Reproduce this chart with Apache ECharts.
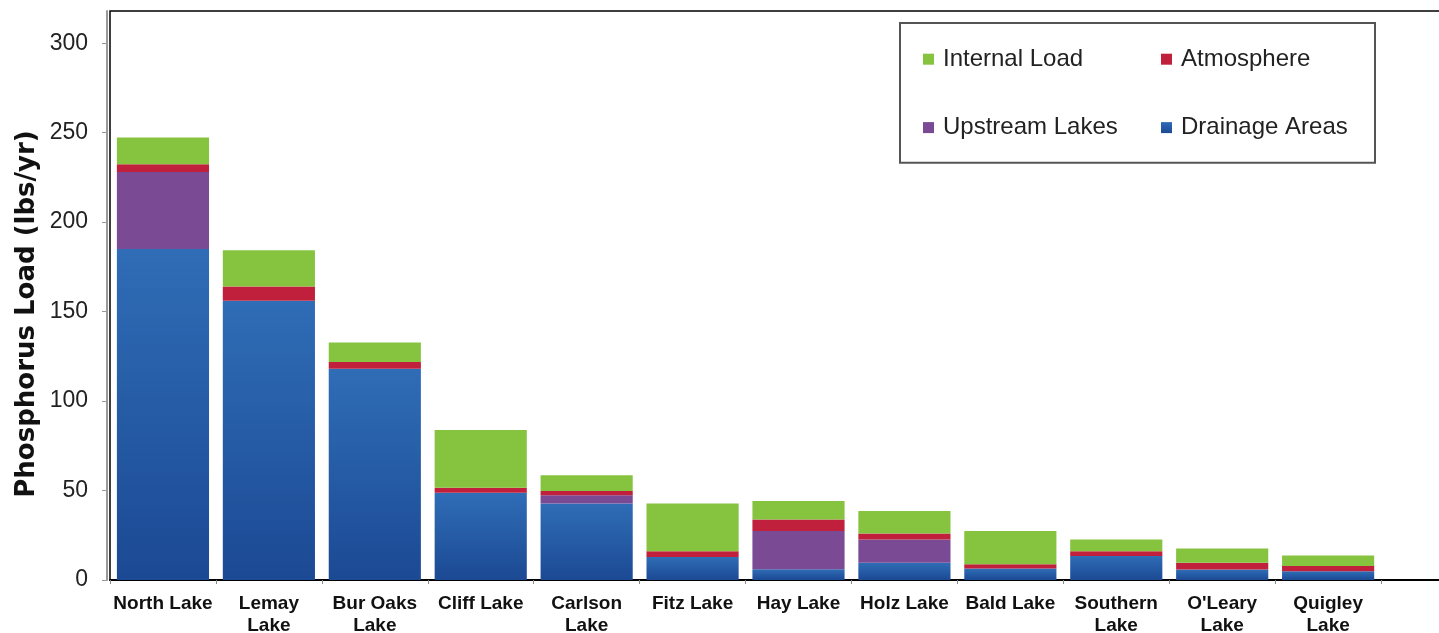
<!DOCTYPE html>
<html>
<head>
<meta charset="utf-8">
<script src="https://cdn.jsdelivr.net/npm/echarts@6/dist/echarts.min.js"></script>
<style>
html,body{margin:0;padding:0;background:#fff;}
#chart{width:1439px;height:633px;}
</style>
</head>
<body>
<div id="chart"></div>
<script>
const categories = ['North Lake','Lemay\nLake','Bur Oaks\nLake','Cliff Lake','Carlson\nLake','Fitz Lake','Hay Lake','Holz Lake','Bald Lake','Southern\nLake',"O'Leary\nLake",'Quigley\nLake'];
const drainageAreas = [185, 156, 118, 48.7, 42.8, 12.9, 6.0, 9.7, 6.4, 13.4, 5.8, 4.9];
const upstreamLakes = [43, 0, 0, 0, 4.6, 0, 21.4, 12.9, 0, 0, 0, 0];
const atmosphere = [4.3, 8, 3.9, 2.8, 2.4, 3.2, 6.4, 3.4, 2.4, 2.7, 3.9, 2.9];
const internalLoad = [15, 20.3, 10.9, 32.3, 8.8, 26.7, 10.3, 12.6, 18.6, 6.5, 7.9, 5.9];
const yTicks = [0, 50, 100, 150, 200, 250, 300];
const yTitle = 'Phosphorus Load (lbs/yr)';

const chart = echarts.init(document.getElementById('chart'), null, {renderer: 'canvas'});

const barBase = {type: 'bar', stack: 'total', barCategoryGap: '13%'};

chart.setOption({
  animation: false,
  backgroundColor: '#fff',
  grid: {
    left: 110, top: 11, bottom: 53, right: -48,
    outerBoundsMode: 'none', containLabel: false,
    show: true, borderColor: '#000', borderWidth: 1.5, backgroundColor: 'transparent'
  },
  legend: {
    data: ['Internal Load', 'Atmosphere', 'Upstream Lakes', 'Drainage Areas'],
    left: 900, top: 23, width: 470,
    padding: [18, 8, 17, 23],
    orient: 'horizontal',
    icon: 'rect', itemWidth: 11, itemHeight: 11, itemGap: 32,
    borderColor: '#555', borderWidth: 2,
    textStyle: {fontFamily: 'Liberation Sans, Arial, sans-serif', fontSize: 24, color: '#222', width: 186, lineHeight: 36.4, padding: [0, 0, 0, 4]}
  },
  graphic: [{
    type: 'text', x: 27, y: 314, rotation: Math.PI / 2,
    style: {text: yTitle, font: 'bold 26px "DejaVu Sans", sans-serif', fill: '#111', align: 'center', verticalAlign: 'middle'}
  }],
  xAxis: {
    type: 'category',
    data: categories.concat(['']),
    axisLine: {lineStyle: {color: '#000', width: 2}},
    axisTick: {show: true, length: 4, lineStyle: {color: '#888'}},
    axisLabel: {interval: 0, margin: 13, fontFamily: 'Liberation Sans, Arial, sans-serif', fontWeight: 'bold', fontSize: 19, color: '#111', lineHeight: 22}
  },
  yAxis: {
    type: 'value', min: 0, max: 318, offset: 3,
    axisLine: {show: true, lineStyle: {color: '#999', width: 2}},
    axisTick: {show: true, length: 5, lineStyle: {color: '#999'}, customValues: yTicks},
    axisLabel: {margin: 19, fontFamily: 'Liberation Sans, Arial, sans-serif', fontSize: 23, color: '#222', customValues: yTicks},
    splitLine: {show: false}
  },
  series: [
    Object.assign({}, barBase, {
      name: 'Drainage Areas', data: drainageAreas,
      itemStyle: {color: new echarts.graphic.LinearGradient(0, 0, 0, 1, [{offset: 0, color: '#2F6DB6'}, {offset: 1, color: '#1C4994'}])}
    }),
    Object.assign({}, barBase, {name: 'Upstream Lakes', data: upstreamLakes, itemStyle: {color: '#7A4A94'}}),
    Object.assign({}, barBase, {name: 'Atmosphere', data: atmosphere, itemStyle: {color: '#C1203C'}}),
    Object.assign({}, barBase, {name: 'Internal Load', data: internalLoad, itemStyle: {color: '#86C440'}})
  ]
});
</script>
</body>
</html>
